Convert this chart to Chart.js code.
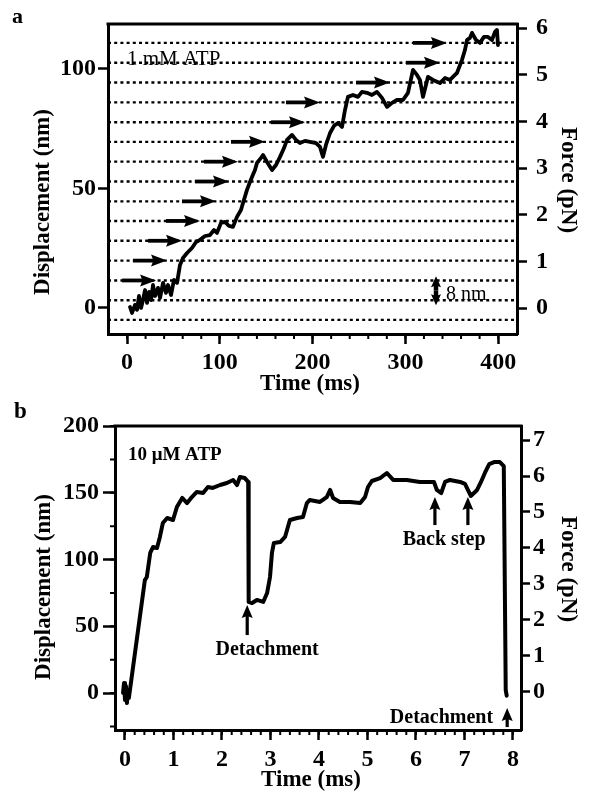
<!DOCTYPE html>
<html>
<head>
<meta charset="utf-8">
<script src="https://cdn.jsdelivr.net/npm/chart.js@4.4.1/dist/chart.umd.min.js"></script>
<style>
  html, body { margin: 0; padding: 0; background: #fff; }
  body { width: 590px; height: 796px; position: relative; overflow: hidden; }
  canvas { position: absolute; left: 0; }
  #chartA { top: 0; }
  #chartB { top: 400px; }
</style>
</head>
<body>
<canvas id="chartA" width="590" height="400"></canvas>
<canvas id="chartB" width="590" height="396"></canvas>
<script>
// ---------- Panel a: kinesin stepping record, 1 mM ATP ----------
const timeA = [3.2, 5.4, 8.6, 10.8, 12.9, 15.1, 17.2, 19.4, 21.6, 23.7, 25.9, 28.0, 30.2, 33.4, 35.6, 38.8, 42.0, 44.2, 47.4, 50.6,
  53.9, 57.1, 60.3, 64.7, 70.0, 74.4, 78.7, 84.1, 89.4, 93.8, 97.0, 101.3, 105.6, 109.9, 114.2, 118.5, 122.8, 125.0, 129.3, 132.5,
  134.7, 137.9, 140.1, 144.4, 146.6, 150.9, 156.3, 160.6, 164.9, 169.2, 172.4, 177.8, 182.1, 186.4, 191.8, 197.2, 203.7, 208.0, 211.2, 214.4,
  218.8, 223.1, 227.4, 231.7, 234.9, 238.1, 243.5, 248.9, 253.2, 258.6, 264.0, 269.4, 274.8, 280.2, 285.6, 290.9, 297.4, 302.8, 308.2, 312.5,
  315.7, 319.0, 322.2, 324.4, 329.7, 337.3, 342.7, 348.1, 353.4, 355.6, 361.0, 364.2, 366.4, 369.6, 371.8, 376.1, 380.4, 384.7, 389.0, 393.3,
  396.6, 398.7, 399.8];
const dispA = [0.4, -2.1, 1.3, -0.8, 5.0, 0.0, 3.3, 7.5, 2.1, 6.7, 3.3, 9.6, 5.0, 8.4, 4.2, 10.5, 6.3, 9.6, 5.4, 11.7,
  10.5, 18.0, 20.9, 23.0, 25.1, 27.6, 28.5, 30.1, 30.5, 32.6, 31.4, 35.6, 36.0, 34.3, 33.9, 38.1, 41.0, 43.9, 49.4, 52.7,
  54.8, 57.7, 60.7, 62.8, 64.0, 61.1, 57.7, 59.8, 63.2, 66.9, 70.3, 72.4, 70.3, 69.0, 69.9, 69.5, 69.0, 67.4, 63.2, 68.2,
  73.2, 76.2, 77.4, 75.7, 82.8, 88.3, 89.1, 88.3, 90.4, 90.0, 89.1, 90.4, 87.9, 84.1, 85.8, 87.0, 87.0, 90.0, 99.6, 97.5,
  95.4, 88.3, 93.3, 96.7, 95.4, 94.1, 96.2, 95.4, 97.5, 98.3, 103.8, 107.9, 112.1, 113.0, 115.1, 112.1, 110.9, 113.4, 113.4, 112.1,
  115.5, 116.3, 110.0];

// dotted reference levels, one per 8-nm step
const stepLevelsA = [110.9, 102.6, 94.3, 86.0, 77.7, 69.5, 61.2, 52.9, 44.6, 36.4, 28.1, 19.8, 11.5, 3.2, -5.0];
// step arrows: tip time (ms) and the level they sit on (nm)
const arrowTimesA  = [31.3, 43.1, 59.3, 78.7, 95.9, 109.9, 119.6, 148.7, 191.8, 208.0, 283.4, 337.3, 344.8];
const arrowLevelsA = [11.5, 19.8, 28.1, 36.4, 44.6, 52.9, 61.2, 69.5, 77.7, 86.0, 94.3, 102.6, 110.9];
// 8 nm scale marker
const scaleBarA = { time: 333, from: 3.2, to: 11.2 };

const timeTicksA  = [0, 100, 200, 300, 400];
const dispTicksA  = [0, 50, 100];
const forceTicksA = [0, 1, 2, 3, 4, 5, 6];
const timeRangeA  = [-20.5, 420.3];
const dispRangeA  = [-10.9, 118.8];
const forceRangeA = [-0.557, 6.086];

// ---------- Panel b: record at 10 µM ATP ----------
const timeB = [-0.04, -0.02, 0.00, 0.02, 0.04, 0.06, 0.08, 0.41, 0.45, 0.52,
  0.58, 0.66, 0.72, 0.78, 0.87, 0.99, 1.07, 1.18, 1.28, 1.38,
  1.48, 1.61, 1.71, 1.81, 1.96, 2.10, 2.23, 2.31, 2.37, 2.47,
  2.54, 2.55, 2.62, 2.72, 2.85, 2.93, 2.99, 3.03, 3.07, 3.20,
  3.30, 3.40, 3.55, 3.67, 3.75, 3.81, 4.02, 4.16, 4.23, 4.29,
  4.43, 4.64, 4.85, 4.95, 5.01, 5.09, 5.26, 5.40, 5.53, 5.81,
  6.08, 6.37, 6.43, 6.52, 6.60, 6.70, 6.91, 7.01, 7.07, 7.13,
  7.26, 7.34, 7.42, 7.51, 7.61, 7.73, 7.81, 7.85, 7.87];
const dispB = [0.0, 7.5, -5.2, 5.2, -7.5, 2.2, -3.7, 84.6, 86.9, 104.9,
  109.4, 108.6, 116.9, 127.3, 131.1, 129.6, 139.3, 146.1, 142.3, 146.8,
  150.6, 149.8, 154.3, 153.6, 155.8, 157.3, 159.6, 155.8, 161.8, 161.0,
  158.1, 68.2, 67.4, 69.7, 68.2, 74.9, 86.9, 104.9, 112.4, 113.1,
  116.9, 129.6, 131.1, 131.8, 142.3, 144.6, 143.1, 146.8, 152.1, 146.1,
  143.1, 143.1, 142.3, 146.8, 154.3, 158.8, 161.0, 164.8, 159.6, 159.6,
  158.1, 158.1, 152.1, 149.8, 158.1, 159.6, 158.1, 156.6, 152.1, 147.6,
  152.1, 158.1, 164.8, 171.5, 173.0, 173.0, 170.0, 2.2, -2.0];

// annotation arrows (pointing up): time, tip and tail displacement
const detachArrowsB   = [{ t: 2.52, tip: 65.9, tail: 43.4 }, { t: 7.88, tip: -11.2, tail: -25.5 }];
const backStepArrowsB = [{ t: 6.39, tip: 146.8, tail: 125.8 }, { t: 7.07, tip: 146.8, tail: 125.8 }];

const timeTicksB  = [0, 1, 2, 3, 4, 5, 6, 7, 8];
const dispTicksB  = [0, 50, 100, 150, 200];
const forceTicksB = [0, 1, 2, 3, 4, 5, 6, 7];
const timeRangeB  = [-0.206, 8.165];
const dispRangeB  = [-27.7, 200];
const forceRangeB = [-1.06, 7.39];

// ---------- drawing helpers ----------
const SERIF = "'Liberation Serif', 'Times New Roman', serif";
const INK = '#000';

function drawArrow(ctx, tx, ty, sx, sy, head, half, w) {
  const dx = tx - sx, dy = ty - sy, L = Math.hypot(dx, dy) || 1;
  const ux = dx / L, uy = dy / L;
  const bx = tx - ux * head, by = ty - uy * head;
  ctx.lineWidth = w;
  ctx.lineCap = 'butt';
  ctx.beginPath();
  ctx.moveTo(sx, sy);
  ctx.lineTo(bx + ux * 3, by + uy * 3);
  ctx.stroke();
  ctx.beginPath();
  ctx.moveTo(tx, ty);
  ctx.lineTo(bx - uy * half, by + ux * half);
  ctx.lineTo(bx + ux * head * 0.15, by + uy * head * 0.15);
  ctx.lineTo(bx + uy * half, by - ux * half);
  ctx.closePath();
  ctx.fill();
}

const decor = {
  id: 'decor',
  afterDatasetsDraw(chart, args, o) {
    const ctx = chart.ctx, xs = chart.scales.x, ys = chart.scales.y, area = chart.chartArea;
    ctx.save();
    ctx.fillStyle = INK; ctx.strokeStyle = INK;

    // short minor ticks along the axes
    (o.minor || []).forEach(m => {
      const sc = chart.scales[m.axis];
      ctx.lineWidth = 2;
      ctx.beginPath();
      for (let k = 0; m.from + k * m.step <= m.to + 1e-9; k++) {
        const p = sc.getPixelForValue(m.from + k * m.step);
        if (sc.isHorizontal()) { ctx.moveTo(p, sc.top); ctx.lineTo(p, sc.top + m.len); }
        else if (sc.position === 'left') { ctx.moveTo(sc.right, p); ctx.lineTo(sc.right - m.len, p); }
        else { ctx.moveTo(sc.left, p); ctx.lineTo(sc.left + m.len, p); }
      }
      ctx.stroke();
    });

    // closing top edge of the frame
    ctx.lineWidth = 3;
    ctx.beginPath();
    ctx.moveTo(area.left - 1.5, area.top);
    ctx.lineTo(area.right + 1.5, area.top);
    ctx.stroke();

    // right-pointing step arrows
    (o.rightArrows || []).forEach(a => {
      const x = xs.getPixelForValue(a.x), y = ys.getPixelForValue(a.y);
      drawArrow(ctx, x, y, x - o.rightArrowLen, y, 16, 6, 3.8);
    });

    // upward annotation arrows
    (o.upArrows || []).forEach(a => {
      const x = xs.getPixelForValue(a.t);
      drawArrow(ctx, x, ys.getPixelForValue(a.tip), x, ys.getPixelForValue(a.tail), 13, 5.5, 3.2);
    });

    // double-headed scale marker
    if (o.scaleBar) {
      const b = o.scaleBar, x = xs.getPixelForValue(b.time);
      const y0 = ys.getPixelForValue(b.from), y1 = ys.getPixelForValue(b.to), ym = (y0 + y1) / 2;
      drawArrow(ctx, x, y1 - 5, x, ym, 11, 5, 4.5);
      drawArrow(ctx, x, y0 + 5, x, ym, 11, 5, 4.5);
    }

    // text placed in data coordinates
    (o.texts || []).forEach(t => {
      ctx.font = t.font;
      ctx.textAlign = t.align || 'left';
      ctx.textBaseline = 'alphabetic';
      ctx.fillText(t.text, xs.getPixelForValue(t.x), ys.getPixelForValue(t.y));
    });

    // axis titles and panel letter
    (o.labels || []).forEach(t => {
      ctx.save();
      ctx.font = t.font;
      ctx.textAlign = t.align || 'center';
      ctx.textBaseline = t.baseline || 'middle';
      ctx.translate(t.px, t.py);
      if (t.rot) ctx.rotate(t.rot);
      ctx.fillText(t.text, 0, 0);
      ctx.restore();
    });
    ctx.restore();
  }
};

function axis(opts) {
  const { pos, range, ticks, size, tickLen, pad } = opts;
  const horizontal = pos === 'bottom';
  return {
    type: 'linear',
    position: pos,
    min: range[0], max: range[1],
    afterBuildTicks: s => { s.ticks = ticks.map(v => ({ value: v })); },
    afterFit: s => { if (horizontal) s.height = size; else s.width = size; },
    grid: { display: true, drawOnChartArea: false, drawTicks: true, tickLength: tickLen, tickWidth: 2.5, tickColor: INK },
    border: { display: true, color: INK, width: 3 },
    ticks: { color: INK, font: { family: SERIF, size: 24, weight: 'bold' }, padding: pad, autoSkip: false, maxRotation: 0 }
  };
}

function traceSet(xs, ys, width) {
  return {
    data: xs.map((x, i) => ({ x, y: ys[i] })),
    borderColor: INK, borderWidth: width, pointRadius: 0,
    borderJoinStyle: 'round', borderCapStyle: 'round', tension: 0, order: 0, yAxisID: 'y'
  };
}

const common = {
  responsive: false,
  animation: false,
  events: [],
  plugins: { legend: { display: false }, tooltip: { enabled: false } }
};

// ---------- chart a ----------
const levelSets = stepLevelsA.map(L => ({
  data: [{ x: timeRangeA[0], y: L }, { x: timeRangeA[1], y: L }],
  borderColor: INK, borderWidth: 2.4, borderDash: [3, 3.2], pointRadius: 0, order: 1, yAxisID: 'y'
}));

new Chart(document.getElementById('chartA'), {
  type: 'line',
  data: { datasets: [traceSet(timeA, dispA, 3.8), ...levelSets] },
  options: {
    ...common,
    layout: { padding: { top: 24, left: 0, right: 0, bottom: 0 } },
    scales: {
      x: axis({ pos: 'bottom', range: timeRangeA, ticks: timeTicksA, size: 66, tickLen: 10, pad: 4 }),
      y: axis({ pos: 'left', range: dispRangeA, ticks: dispTicksA, size: 108, tickLen: 10, pad: 2 }),
      yF: axis({ pos: 'right', range: forceRangeA, ticks: forceTicksA, size: 73, tickLen: 10, pad: 9 })
    },
    plugins: {
      ...common.plugins,
      decor: {
        minor: [{ axis: 'x', from: 0, to: 400, step: 20, len: 5 }],
        rightArrows: arrowTimesA.map((t, i) => ({ x: t, y: arrowLevelsA[i] })),
        rightArrowLen: 34,
        scaleBar: scaleBarA,
        texts: [
          { text: '1 mM ATP', x: 0, y: 101.7, font: `21px ${SERIF}` },
          { text: '8 nm', x: 343.8, y: 3.2, font: `20px ${SERIF}` }
        ],
        labels: [
          { text: 'a', px: 12, py: 23, align: 'left', baseline: 'alphabetic', font: `bold 22px ${SERIF}` },
          { text: 'Displacement (nm)', px: 43, py: 202, rot: -Math.PI / 2, font: `bold 23px ${SERIF}` },
          { text: 'Force (pN)', px: 568, py: 180, rot: Math.PI / 2, font: `bold 23px ${SERIF}` },
          { text: 'Time (ms)', px: 310, py: 384, font: `bold 23px ${SERIF}` }
        ]
      }
    }
  },
  plugins: [decor]
});

// ---------- chart b ----------
new Chart(document.getElementById('chartB'), {
  type: 'line',
  data: { datasets: [traceSet(timeB, dispB, 4)] },
  options: {
    ...common,
    layout: { padding: { top: 26, left: 0, right: 0, bottom: 0 } },
    scales: {
      x: axis({ pos: 'bottom', range: timeRangeB, ticks: timeTicksB, size: 66, tickLen: 10, pad: 5 }),
      y: axis({ pos: 'left', range: dispRangeB, ticks: dispTicksB, size: 115, tickLen: 12, pad: 4 }),
      yF: axis({ pos: 'right', range: forceRangeB, ticks: forceTicksB, size: 69, tickLen: 9, pad: 3 })
    },
    plugins: {
      ...common.plugins,
      decor: {
        minor: [
          { axis: 'x', from: 0, to: 8, step: 0.2, len: 5 },
          { axis: 'y', from: -25, to: 200, step: 25, len: 5 }
        ],
        upArrows: [...detachArrowsB, ...backStepArrowsB],
        texts: [
          { text: '10 \u03bcM ATP', x: 0.06, y: 174.5, font: `bold 19px ${SERIF}` },
          { text: 'Detachment', x: 2.93, y: 28.5, align: 'center', font: `bold 20px ${SERIF}` },
          { text: 'Back step', x: 6.58, y: 110.9, align: 'center', font: `bold 20px ${SERIF}` },
          { text: 'Detachment', x: 7.59, y: -22.5, align: 'right', font: `bold 20px ${SERIF}` }
        ],
        labels: [
          { text: 'b', px: 14, py: 18, align: 'left', baseline: 'alphabetic', font: `bold 23px ${SERIF}` },
          { text: 'Displacement (nm)', px: 44, py: 187, rot: -Math.PI / 2, font: `bold 23px ${SERIF}` },
          { text: 'Force (pN)', px: 568, py: 169, rot: Math.PI / 2, font: `bold 23px ${SERIF}` },
          { text: 'Time (ms)', px: 311, py: 380, font: `bold 23px ${SERIF}` }
        ]
      }
    }
  },
  plugins: [decor]
});
</script>
</body>
</html>
